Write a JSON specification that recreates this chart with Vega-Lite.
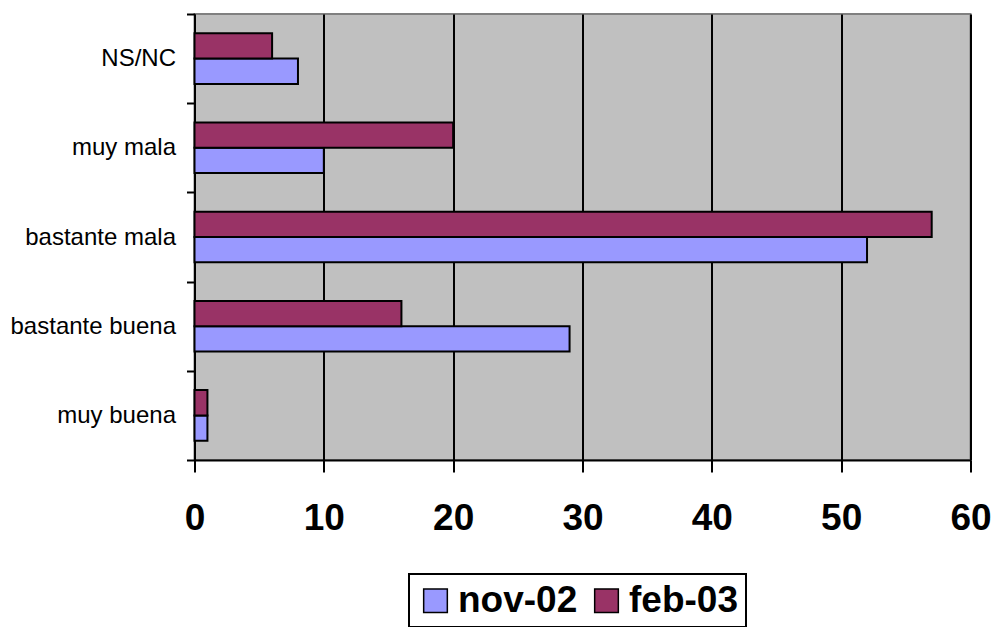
{
  "$schema": "https://vega.github.io/schema/vega-lite/v6.json",
  "width": 776,
  "height": 446,
  "autosize": {"type": "none"},
  "padding": {"left": 194.5, "top": 14, "right": 24.5, "bottom": 167},
  "background": "white",
  "config": {
    "view": {"fill": "#C0C0C0", "stroke": "#808080", "strokeWidth": 2},
    "font": "Liberation Sans",
    "legend": {"strokeColor": "black", "strokeWidth": 2}
  },
  "data": {
    "values": [
      {"cat": "NS/NC", "serie": "nov-02", "valor": 8},
      {"cat": "NS/NC", "serie": "feb-03", "valor": 6},
      {"cat": "muy mala", "serie": "nov-02", "valor": 10},
      {"cat": "muy mala", "serie": "feb-03", "valor": 20},
      {"cat": "bastante mala", "serie": "nov-02", "valor": 52},
      {"cat": "bastante mala", "serie": "feb-03", "valor": 57},
      {"cat": "bastante buena", "serie": "nov-02", "valor": 29},
      {"cat": "bastante buena", "serie": "feb-03", "valor": 16},
      {"cat": "muy buena", "serie": "nov-02", "valor": 1},
      {"cat": "muy buena", "serie": "feb-03", "valor": 1}
    ]
  },
  "mark": {"type": "bar", "stroke": "black", "strokeWidth": 2},
  "encoding": {
    "y": {
      "field": "cat",
      "type": "nominal",
      "scale": {
        "domain": ["NS/NC", "muy mala", "bastante mala", "bastante buena", "muy buena"],
        "paddingInner": 0,
        "paddingOuter": 0
      },
      "axis": {
        "title": null,
        "grid": false,
        "tickBand": "extent",
        "tickSize": 8,
        "tickWidth": 2,
        "tickColor": "black",
        "domainColor": "black",
        "domainWidth": 2,
        "labelFontSize": 24,
        "labelFont": "Liberation Sans",
        "labelColor": "black",
        "labelPadding": 11
      }
    },
    "yOffset": {
      "field": "serie",
      "type": "nominal",
      "scale": {"domain": ["feb-03", "nov-02"], "paddingInner": 0, "paddingOuter": 0.763}
    },
    "x": {
      "field": "valor",
      "type": "quantitative",
      "scale": {"domain": [0, 60], "nice": false},
      "axis": {
        "title": null,
        "values": [0, 10, 20, 30, 40, 50, 60],
        "grid": true,
        "gridColor": "black",
        "gridWidth": 2,
        "gridOpacity": 1,
        "tickSize": 12,
        "tickWidth": 2,
        "tickColor": "black",
        "domainColor": "black",
        "domainWidth": 2,
        "labelFontSize": 37,
        "labelFontWeight": "bold",
        "labelFont": "Liberation Sans",
        "labelColor": "black",
        "labelPadding": 28,
        "labelFlush": false
      }
    },
    "color": {
      "field": "serie",
      "type": "nominal",
      "scale": {"domain": ["nov-02", "feb-03"], "range": ["#9999FF", "#993366"]},
      "legend": {
        "title": null,
        "orient": "none",
        "direction": "horizontal",
        "legendX": 214.5,
        "legendY": 560,
        "fillColor": "white",
        "padding": 8,
        "symbolType": "square",
        "symbolSize": 560,
        "symbolStrokeColor": "black",
        "symbolStrokeWidth": 1.5,
        "symbolOpacity": 1,
        "labelFontSize": 37,
        "labelFontWeight": "bold",
        "labelFont": "Liberation Sans",
        "labelColor": "black",
        "labelOffset": 4,
        "columnPadding": 10,
        "labelLimit": 300
      }
    }
  }
}
